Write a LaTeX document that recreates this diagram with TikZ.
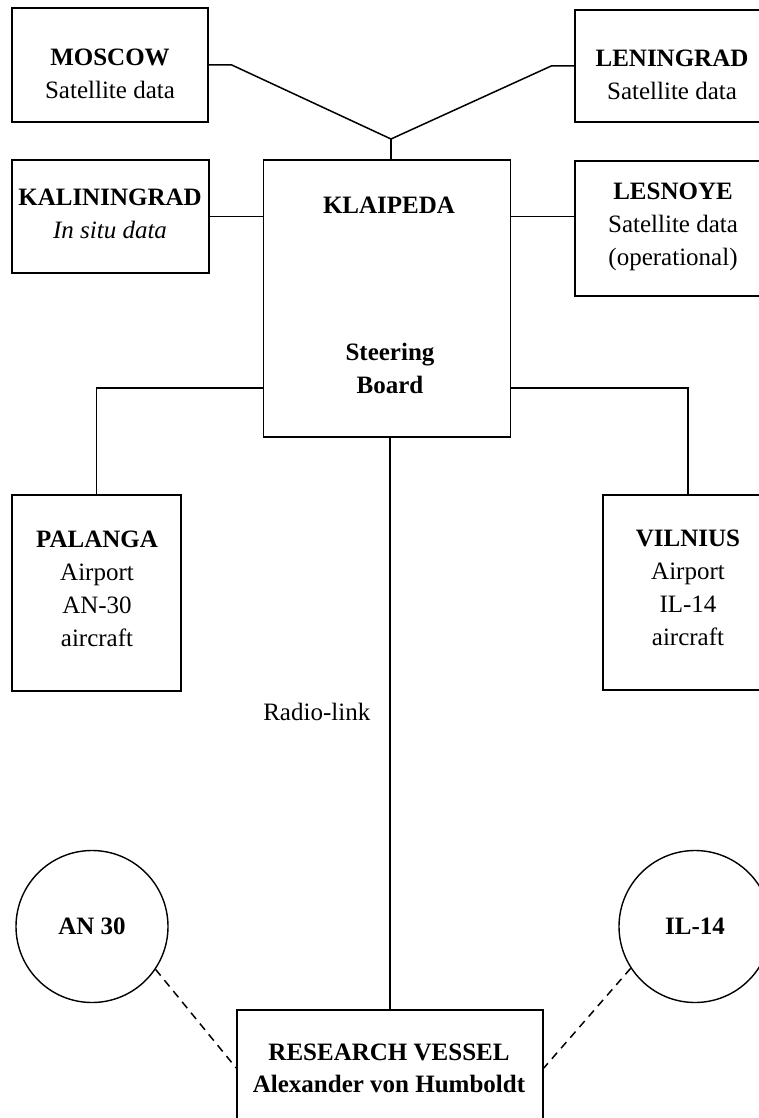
\documentclass[tikz,border=0pt]{standalone}
\usepackage{fontspec}
\setmainfont{Liberation Serif}
\begin{document}
\begin{tikzpicture}[x=1pt, y=-1pt,
        box/.style={draw, line width=1.6pt, inner sep=0pt},
        ring/.style={circle, draw, line width=1.4pt, minimum size=152pt, inner sep=0pt, font=\fontsize{25}{33}\selectfont\bfseries},
        txt/.style={align=center, inner sep=0pt, font=\fontsize{25}{33}\selectfont},
        link/.style={line width=1.5pt}]
            \clip (0,0) rectangle (759,1118);
            \node[box, minimum width=196pt, minimum height=114pt] (moscow)      at (110,65)    {};
            \node[box, minimum width=194pt, minimum height=112pt] (leningrad)   at (672,66)    {};
            \node[box, minimum width=197pt, minimum height=113pt] (kaliningrad) at (110.5,216.5) {};
            \node[box, minimum width=247pt, minimum height=277pt] (klaipeda)    at (387,298.5) {};
            \node[box, minimum width=194pt, minimum height=135pt] (lesnoye)     at (672,228.5) {};
            \node[box, minimum width=169pt, minimum height=196pt] (palanga)     at (96.5,593)  {};
            \node[box, minimum width=170pt, minimum height=195pt] (vilnius)     at (688,592.5) {};
            \node[box, minimum width=306pt, minimum height=116pt] (vessel)      at (390,1068)  {};
            \node[ring] (an30) at (92,926.5) {AN 30};
            \node[ring] (il14) at (695,926.5) {IL-14};
            \node[txt] (moscowtxt)      at (110,74)    {\textbf{MOSCOW}\\Satellite data};
            \node[txt] (leningradtxt)   at (672,75)    {\textbf{LENINGRAD}\\Satellite data};
            \node[txt] (kaliningradtxt) at (110,213.5) {\textbf{KALININGRAD}\\\textit{In situ data}};
            \node[txt, font=\fontsize{25}{33}\selectfont\bfseries] (klaipedatxt) at (389,205) {KLAIPEDA};
            \node[txt, font=\fontsize{25}{33}\selectfont\bfseries] (boardtxt)    at (390,368.5) {Steering\\Board};
            \node[txt] (lesnoyetxt)     at (673,227)   {\textbf{LESNOYE}\\Satellite data\\(operational)};
            \node[txt] (palangatxt)     at (97,588.5)  {\textbf{PALANGA}\\Airport\\AN-30\\aircraft};
            \node[txt] (vilniustxt)     at (688,588)   {\textbf{VILNIUS}\\Airport\\IL-14\\aircraft};
            \node[txt, font=\fontsize{25}{32}\selectfont\bfseries] (vesseltxt) at (389,1068.5) {RESEARCH VESSEL\\Alexander von Humboldt};
            \coordinate (fork) at (391,139);
            \coordinate (arm)  at (0,388);
            \draw[link] (moscow.east) -- ++(23,0) -- (fork);
            \draw[link] (leningrad.west) -- ++(-23,0) -- (fork);
            \draw[link] (fork) -- (fork |- klaipeda.north);
            \draw[link] (kaliningrad.east) -- (kaliningrad.east -| klaipeda.west);
            \draw[link] (klaipeda.east |- kaliningrad.east) -- (lesnoye.west |- kaliningrad.east);
            \draw[link] (klaipeda.west |- arm) -| (palanga.north);
            \draw[link] (klaipeda.east |- arm) -| (vilnius.north);
            \draw[link] (vessel.north |- klaipeda.south) -- (vessel.north)
                node[txt, pos=0.48, left=19pt] (radiolink) {Radio-link};
            \draw[link, dash pattern=on 8pt off 6pt] (an30.-34) -- (vessel.west);
            \draw[link, dash pattern=on 8pt off 6pt] (il14.213) -- (vessel.east);
        \end{tikzpicture}
\end{document}
